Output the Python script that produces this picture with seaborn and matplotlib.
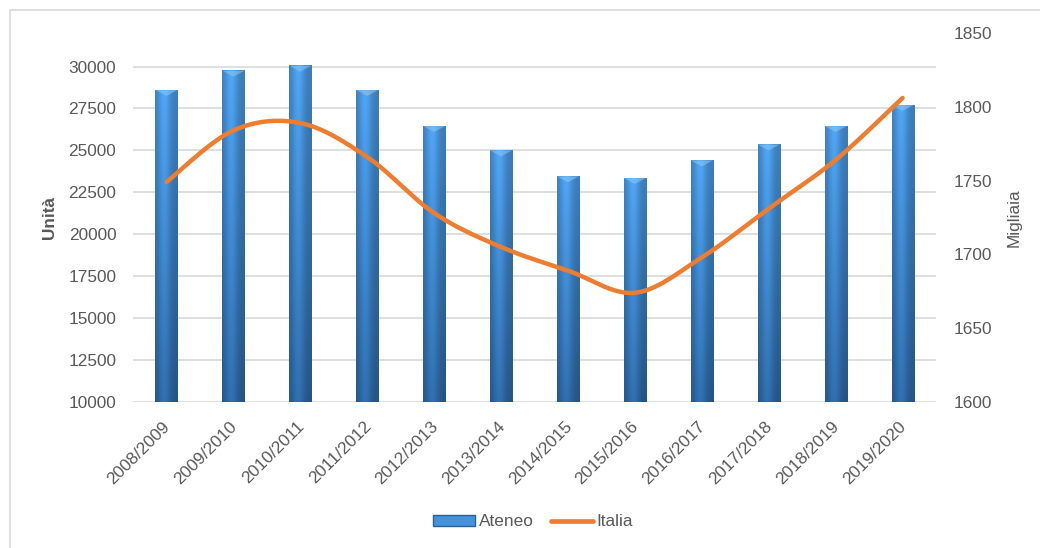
import numpy as np
import pandas as pd
import matplotlib
matplotlib.use("Agg")
import matplotlib.pyplot as plt
import matplotlib.transforms as mtransforms
from matplotlib.patches import Patch, Rectangle
from matplotlib.lines import Line2D
import seaborn as sns

categories = ["2008/2009", "2009/2010", "2010/2011", "2011/2012", "2012/2013", "2013/2014",
              "2014/2015", "2015/2016", "2016/2017", "2017/2018", "2018/2019", "2019/2020"]
ateneo = [28600, 29750, 30050, 28600, 26450, 25000, 23450, 23350, 24400, 25350, 26450, 27700]
italia = [1749, 1784, 1789, 1766, 1728, 1705, 1689, 1674, 1698, 1731, 1764, 1806]
left_ticks = [10000, 12500, 15000, 17500, 20000, 22500, 25000, 27500, 30000]
right_ticks = [1600, 1650, 1700, 1750, 1800, 1850]

sns.set_theme(style="white")
plt.rcParams['font.family'] = ['Liberation Sans', 'DejaVu Sans']

TXT = "#595959"
GRID = "#D9D9D9"
ORANGE = "#ED7D31"
YMIN, YMAX = 10000, 32000
FS = 12.4

fig = plt.figure(figsize=(10.4, 5.48), dpi=100)
ax = fig.add_axes([133/1040, 1-402/548, (936-133)/1040, (402-33)/548])

df = pd.DataFrame({"Anno": categories, "Ateneo": ateneo})
sns.barplot(data=df, x="Anno", y="Ateneo", ax=ax, color="#3E86CF", width=0.33,
            edgecolor="#2C5F94", linewidth=0.6, saturation=1, zorder=2)

ax.set_ylim(YMIN, YMAX)
ax.set_xlim(-0.5, len(categories) - 0.5)
ax.set_yticks(left_ticks)
for t in left_ticks:
    ax.axhline(t, color=GRID, lw=1.2, zorder=0)

# gradient fill on bars (decoration)
top_c = np.array([0x4E, 0xA0, 0xEC]) / 255
bot_c = np.array([0x2F, 0x6C, 0xAA]) / 255
nv, nh = 64, 32
v = np.linspace(0, 1, nv)[:, None, None]
col = top_c * (1 - v) + bot_c * v
hx = np.linspace(0, 1, nh)
prof = 0.78 + 0.26 * np.exp(-((hx - 0.4) / 0.28) ** 2)
img = np.clip(col * prof[None, :, None], 0, 1)
for p in list(ax.patches):
    x0, w, h = p.get_x(), p.get_width(), p.get_height()
    ax.imshow(img, extent=[x0, x0 + w, YMIN, h], aspect="auto", origin="upper",
              zorder=2.5, interpolation="bilinear")
    # small light cap at the top (bevel)
    ax.fill([x0, x0 + w, x0 + w / 2], [h, h, h - 350], color="#8CCBF5", alpha=0.55,
            zorder=2.6, lw=0)
ax.set_xlim(-0.5, len(categories) - 0.5)
ax.set_ylim(YMIN, YMAX)

for s in ax.spines.values():
    s.set_visible(False)
ax.tick_params(axis="y", length=0, labelsize=FS, labelcolor=TXT, pad=12)
ax.tick_params(axis="x", length=0, labelsize=FS, labelcolor=TXT, pad=12)
ax.set_xticks(range(len(categories)))
ax.set_xticklabels(categories, rotation=45, ha="right", rotation_mode="anchor")
shift = mtransforms.ScaledTranslation(-4/100, 0, fig.dpi_scale_trans)
for lbl in ax.get_xticklabels():
    lbl.set_transform(lbl.get_transform() + shift)
ax.set_xlabel("")
ax.set_ylabel("Unità", fontsize=FS, color=TXT, fontweight="bold", labelpad=8)

ax2 = ax.twinx()
ax2.set_ylim(1600, 1850)
ax2.set_yticks(right_ticks)
for s in ax2.spines.values():
    s.set_visible(False)
ax2.tick_params(axis="y", length=0, labelsize=FS, labelcolor=TXT, pad=13)
ax2.set_ylabel("Migliaia", fontsize=FS, color=TXT, labelpad=10)

# smoothed line (Catmull-Rom style, as in Excel smoothed lines)
xs = np.arange(len(italia), dtype=float)
ys = np.array(italia, dtype=float)
px, py = [], []
t = np.linspace(0, 1, 30)
n = len(xs)
for i in range(n - 1):
    i0, i3 = max(i - 1, 0), min(i + 2, n - 1)
    P0 = np.array([xs[i], ys[i]]); P1 = np.array([xs[i + 1], ys[i + 1]])
    B1 = P0 + (P1 - np.array([xs[i0], ys[i0]])) / 6
    B2 = P1 - (np.array([xs[i3], ys[i3]]) - P0) / 6
    for tt in t:
        pt = (1 - tt) ** 3 * P0 + 3 * (1 - tt) ** 2 * tt * B1 + 3 * (1 - tt) * tt ** 2 * B2 + tt ** 3 * P1
        px.append(pt[0]); py.append(pt[1])
ax2.plot(px, py, color=ORANGE, lw=3.2, solid_capstyle="round", zorder=5)

# legend
handles = [Patch(facecolor="#4592DC", edgecolor="#2C5F94", label="Ateneo"),
           Line2D([0], [0], color=ORANGE, lw=3.4, label="Italia")]
fig.legend(handles=handles, loc="center", bbox_to_anchor=(533/1040, 1 - 522/548), ncol=2,
           frameon=False, fontsize=FS, labelcolor=TXT, handlelength=2.45, handletextpad=0.2,
           columnspacing=1.0, handleheight=0.65, borderpad=0.2)

# chart border
fig.patches.append(Rectangle((10/1040, -0.05), 1.0, 1 - 10/548 + 0.05, transform=fig.transFigure,
                             fill=False, edgecolor="#D9D9D9", lw=1.2, zorder=0))

fig.savefig("out.png", dpi=100)
